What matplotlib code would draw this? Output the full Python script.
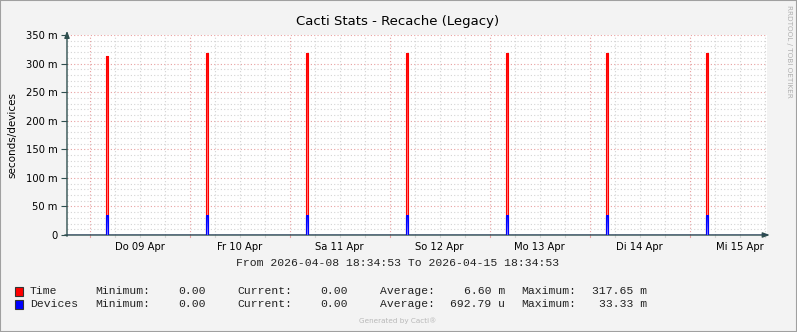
import numpy as np
import matplotlib
matplotlib.use("Agg")
import matplotlib.pyplot as plt
from matplotlib.colors import LinearSegmentedColormap
from matplotlib.patches import Rectangle

# data: hours since 2026-04-08 18:34:53
span_hours = 168
first_midnight = 5.4186
day_labels = ["Do 09 Apr", "Fr 10 Apr", "Sa 11 Apr", "So 12 Apr", "Mo 13 Apr", "Di 14 Apr", "Mi 15 Apr"]
spike_start = [9.3, 33.3, 57.3, 81.3, 105.3, 129.3, 153.3]
spike_width = 0.6
time_peaks = [313.0, 317.65, 317.65, 317.65, 317.65, 317.65, 317.65]   # m
device_peaks = [33.33, 33.33, 33.33, 33.33, 33.33, 33.33, 33.33]        # m

legend_names = ["Time", "Devices"]
legend_colors = ["#FF0000", "#0000FF"]
leg_min = ["0.00", "0.00"]
leg_cur = ["0.00", "0.00"]
leg_avg = ["6.60 m", "692.79 u"]
leg_max = ["317.65 m", "33.33 m"]

W, H = 797, 332
fig = plt.figure(figsize=(W / 100, H / 100), dpi=100, facecolor="#F3F3F3")
ax = fig.add_axes([67 / W, 97 / H, 700 / W, 200 / H])
ax.set_facecolor("white")
ax.set_xlim(0, span_hours)
ax.set_ylim(0, 350)

# grid
dot = (0, (1, 2))
for y in range(10, 351, 10):
    c = "#E8A0A0" if y % 50 == 0 else "#D4D4D4"
    ax.axhline(y, color=c, lw=0.8, ls=dot, zorder=0)
for h in np.arange(first_midnight - 6, span_hours, 6):
    if h <= 0:
        continue
    major = abs((h - first_midnight) % 24) < 1e-6
    c = "#E8A0A0" if major else "#D4D4D4"
    ax.axvline(h, color=c, lw=0.8, ls=dot, zorder=0)
    ax.plot([h, h], [-3.5, 0], color=c, lw=0.8, clip_on=False, zorder=1)

red_cm = LinearSegmentedColormap.from_list("r", ["#FF9090", "#FF7070", "#FF0000"])
blue_cm = LinearSegmentedColormap.from_list("b", ["#9090FF", "#0000FF"])
grad = np.linspace(0, 1, 64).reshape(-1, 1)

for t0, tv, dv in zip(spike_start, time_peaks, device_peaks):
    t1 = t0 + spike_width
    ax.imshow(grad, cmap=red_cm, origin="lower", aspect="auto",
              extent=[t0 + 0.05, t1 - 0.05, 0, tv], zorder=2)
    ax.plot([t0 + 0.05, t0 + 0.05, t1 - 0.05, t1 - 0.05], [0, tv, tv, 0], color="#FF0000", lw=0.8, zorder=3)
    ax.imshow(grad, cmap=blue_cm, origin="lower", aspect="auto",
              extent=[t0, t1, 0, dv], zorder=4)
    ax.plot([t0, t0, t1, t1], [0, dv, dv, 0], color="#0000FF", lw=0.8, zorder=5)
ax.axhline(0, color="#1A237E", lw=1, zorder=5)

for s in ax.spines.values():
    s.set_visible(False)
ax.set_xticks([first_midnight + 12 + 24 * i for i in range(7)])
ax.set_xticklabels(day_labels, fontsize=7.2, family="DejaVu Sans")
ax.tick_params(axis="x", length=0, pad=5)
ax.set_yticks(range(0, 351, 50))
ax.set_yticklabels(["0"] + [f"{v} m" for v in range(50, 351, 50)], fontsize=7.2)
ax.tick_params(axis="y", length=4, color="#2F4F4F", pad=3)

axis_c = "#2F4F4F"
ax.annotate("", xy=(0, 1.035), xytext=(0, -0.02), xycoords="axes fraction",
            arrowprops=dict(arrowstyle="-|>,head_length=0.4,head_width=0.15", color=axis_c, lw=1),
            annotation_clip=False)
ax.annotate("", xy=(1.008, 0), xytext=(-0.007, 0), xycoords="axes fraction",
            arrowprops=dict(arrowstyle="-|>,head_length=0.4,head_width=0.15", color=axis_c, lw=1),
            annotation_clip=False)

ax.set_ylabel("seconds/devices", fontsize=7.5, labelpad=6)

fig.text(398 / W, 1 - 22 / H, "Cacti Stats - Recache (Legacy)", ha="center", va="center", fontsize=9.5)
fig.text(789 / W, 1 - 5 / H, "RRDTOOL / TOBI OETIKER", rotation=270, ha="center", va="top",
         fontsize=5.2, color="#B0B0B0")
mono = dict(family="Liberation Mono", fontsize=8.2, va="center", color="#222222")
fig.text(398 / W, 1 - 263 / H, "From 2026-04-08 18:34:53 To 2026-04-15 18:34:53", ha="center", **mono)

for i, (name, col) in enumerate(zip(legend_names, legend_colors)):
    yy = 1 - (291 + 13 * i) / H
    fig.patches.append(Rectangle((15 / W, yy - 4.5 / H), 8 / W, 9 / H, transform=fig.transFigure,
                                 facecolor=col, edgecolor="#333333", lw=0.8))
    fig.text(30 / W, yy, name, ha="left", **mono)
    fig.text(95 / W, yy, "Minimum:", ha="left", **mono)
    fig.text(206 / W, yy, leg_min[i], ha="right", **mono)
    fig.text(237 / W, yy, "Current:", ha="left", **mono)
    fig.text(348 / W, yy, leg_cur[i], ha="right", **mono)
    fig.text(380 / W, yy, "Average:", ha="left", **mono)
    fig.text(505 / W, yy, leg_avg[i], ha="right", **mono)
    fig.text(521 / W, yy, "Maximum:", ha="left", **mono)
    fig.text(647 / W, yy, leg_max[i], ha="right", **mono)

fig.text(398 / W, 1 - 321 / H, "Generated by Cacti\u00ae", ha="center", va="center", fontsize=5.2, color="#B8B8B8")

# outer frame
fig.patches.append(Rectangle((0, 0), 1, 1, transform=fig.transFigure, fill=False,
                             edgecolor="#A0A0A0", lw=1.5))

fig.savefig("out.png", dpi=100, facecolor=fig.get_facecolor())
